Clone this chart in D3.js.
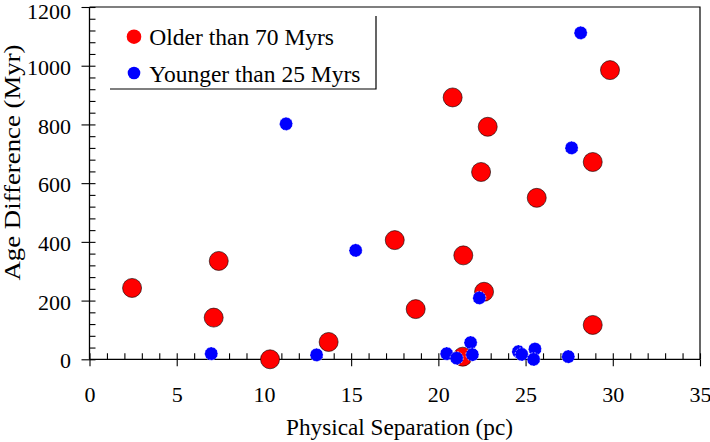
<!DOCTYPE html>
<html>
<head>
<meta charset="utf-8">
<script src="https://cdn.jsdelivr.net/npm/d3@7"></script>
<style>
  body { margin: 0; background: #fff; }
  text { font-family: "Liberation Serif", "DejaVu Serif", serif; fill: #000; }
</style>
</head>
<body>
<svg id="chart" width="710" height="442"></svg>
<script>
// values
const xTicks = [0, 5, 10, 15, 20, 25, 30, 35];
const yTicks = [0, 200, 400, 600, 800, 1000, 1200];

const olderSep = [2.44, 7.12, 7.41, 10.35, 13.71, 17.5, 18.7, 20.82, 21.4, 21.43, 22.45, 22.62, 22.83, 25.64, 28.85, 28.85, 29.84];
const olderAge = [243, 142, 335, 0, 59, 406, 171, 892, 9, 354, 638, 230, 792, 550, 117, 672, 985];

const youngerSep = [6.98, 11.27, 13.02, 15.26, 20.48, 21.05, 21.85, 21.95, 22.35, 24.59, 24.78, 25.54, 25.46, 27.45, 27.64, 28.16];
const youngerAge = [19, 802, 15, 371, 19, 4, 57, 16, 209, 26, 17, 35, 0, 9, 720, 1112];

const legendLabels = ["Older than 70 Myrs", "Younger than 25 Myrs"];
const colors = ["#ff0000", "#0000ff"];

const svg = d3.select("#chart");

const x = d3.scaleLinear().domain([0, 35]).range([89.5, 700]);
const y = d3.scaleLinear().domain([0, 1200]).range([359.3, 7]);

// frame top + right
svg.append("path")
  .attr("d", `M${x(0)},${y(1200)}H${x(35)}V${y(0)}`)
  .attr("fill", "none").attr("stroke", "#000").attr("stroke-width", 1.2);

// x axis: minor ticks up, major ticks down
const xMinor = svg.append("g").attr("transform", `translate(0,${y(0)})`)
  .call(d3.axisBottom(x).tickValues(d3.range(0, 36, 1)).tickSize(-6).tickFormat(""));
const xMajor = svg.append("g").attr("transform", `translate(0,${y(0)})`)
  .call(d3.axisBottom(x).tickValues(xTicks).tickSize(7).tickFormat(d3.format("d")));
xMajor.selectAll("text").attr("y", 42.5).attr("dy", null)
  .style("font-size", "22px").style("font-family", "Liberation Serif");

// y axis: minor ticks right, major ticks left
const yMinor = svg.append("g").attr("transform", `translate(${x(0)},0)`)
  .call(d3.axisLeft(y).tickValues(d3.range(0, 1201, 40)).tickSize(-6).tickFormat(""));
const yMajor = svg.append("g").attr("transform", `translate(${x(0)},0)`)
  .call(d3.axisLeft(y).tickValues(yTicks).tickSize(8).tickPadding(10.5).tickFormat(d3.format("d")));
yMajor.selectAll("text").attr("dy", "0.39em")
  .style("font-size", "22px").style("font-family", "Liberation Serif");
// keep the top label inside the page
yMajor.selectAll("text").filter(d => d === 1200).attr("dy", "0.52em");

svg.selectAll(".tick line").attr("stroke", "#000").attr("stroke-width", 1.1);
// single axis lines, no end caps
xMinor.select(".domain").attr("d", `M${x(0)},0H${x(35)}`).attr("stroke", "#000").attr("stroke-width", 1.3);
xMajor.select(".domain").remove();
yMinor.select(".domain").attr("d", `M0,${y(0)}V${y(1200)}`).attr("stroke", "#000").attr("stroke-width", 1.3);
yMajor.select(".domain").remove();

// axis titles
svg.append("text")
  .attr("x", 286).attr("y", 435)
  .attr("textLength", 227).attr("lengthAdjust", "spacingAndGlyphs")
  .style("font-size", "22.5px")
  .text("Physical Separation (pc)");

svg.append("text")
  .attr("transform", "translate(20,162.5) rotate(-90)")
  .attr("text-anchor", "middle")
  .attr("textLength", 236).attr("lengthAdjust", "spacingAndGlyphs")
  .style("font-size", "23.5px")
  .text("Age Difference (Myr)");

// points
const older = olderSep.map((s, i) => ({ s, a: olderAge[i] }));
const younger = youngerSep.map((s, i) => ({ s, a: youngerAge[i] }));

svg.append("g").selectAll("circle")
  .data(older)
  .enter()
  .append("circle")
  .attr("cx", d => x(d.s))
  .attr("cy", d => y(d.a))
  .attr("r", 9.5)
  .attr("fill", colors[0])
  .attr("stroke", "#000")
  .attr("stroke-width", 0.6);

svg.append("g").selectAll("circle")
  .data(younger)
  .enter()
  .append("circle")
  .attr("cx", d => x(d.s))
  .attr("cy", d => y(d.a))
  .attr("r", 6.6)
  .attr("fill", colors[1])
  .attr("stroke", "#fff")
  .attr("stroke-width", 0.6)
  .attr("stroke-dasharray", "2 1.5");

// legend (only right and bottom edges drawn)
const legend = svg.append("g");
legend.append("path")
  .attr("d", "M376,16V89H110")
  .attr("fill", "none").attr("stroke", "#000").attr("stroke-width", 1.2);

const legendY = [36.7, 73];
const legendR = [7.3, 6.3];
legend.selectAll("circle")
  .data(legendLabels)
  .enter()
  .append("circle")
  .attr("cx", 134)
  .attr("cy", (d, i) => legendY[i])
  .attr("r", (d, i) => legendR[i])
  .attr("fill", (d, i) => colors[i]);

legend.selectAll("text")
  .data(legendLabels)
  .enter()
  .append("text")
  .attr("x", 149.3)
  .attr("y", (d, i) => legendY[i] + 8.5)
  .style("font-size", "23.5px")
  .text(d => d);
</script>
</body>
</html>
